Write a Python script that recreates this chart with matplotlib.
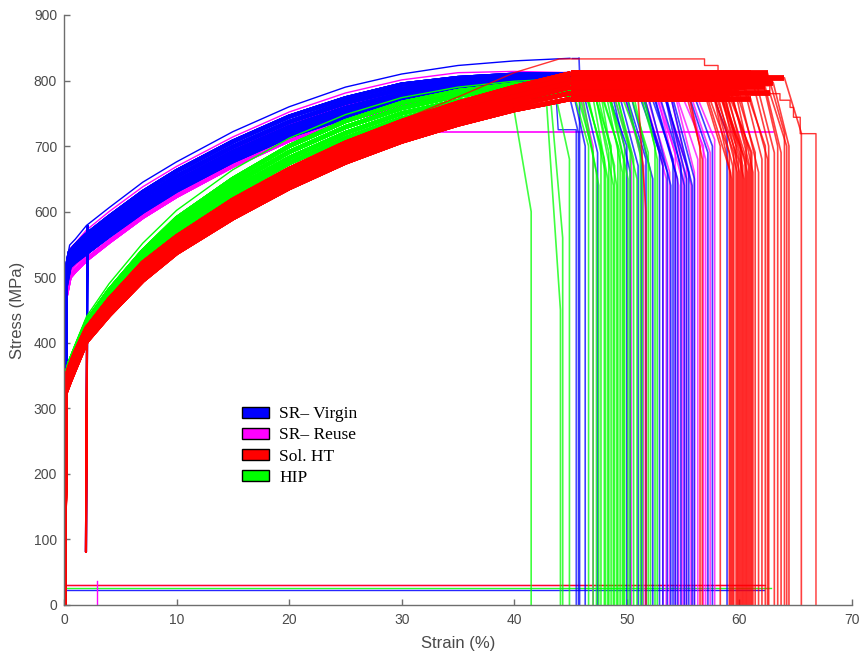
import numpy as np
import matplotlib
matplotlib.use('Agg')
import matplotlib.pyplot as plt
from matplotlib.patches import Patch

strain_grid = [0, 0.15, 0.5, 1, 2, 4, 7, 10, 15, 20, 25, 30, 35, 40, 45]

# SR- Virgin (blue) stress profiles, MPa
virgin_profiles = [
    [0, 515, 549, 558, 579, 606, 645, 676, 722, 760, 790, 810, 823, 830, 834],
    [0, 505, 538, 548, 565, 592, 630, 662, 707, 745, 773, 794, 804, 809, 810],
    [0, 500, 532, 541, 557, 584, 622, 654, 699, 737, 766, 787, 799, 805, 807],
    [0, 495, 526, 535, 550, 577, 614, 646, 691, 729, 758, 780, 794, 801, 804],
    [0, 490, 521, 529, 543, 570, 607, 639, 684, 722, 751, 774, 789, 797, 800],
    [0, 485, 516, 524, 537, 563, 600, 632, 677, 715, 744, 768, 784, 792, 796],
]
virgin_curve = [0, 3, 4, 2, 5, 1, 4, 2, 3, 4, 2, 1, 5, 3, 1, 4, 3, 4, 2, 1, 5, 3, 1, 3, 4, 2]
virgin_neck = [45.75, 44.5, 45.0, 45.8, 48.0, 48.3, 49.0, 49.3, 49.5, 50.0, 50.5, 51.0, 51.0,
               51.5, 51.5, 52.0, 52.0, 52.5, 53.0, 53.0, 53.0, 53.5, 53.5, 55.0, 55.5, 57.0]
virgin_break = [45.8, 45.7, 46.3, 47.4, 50.0, 50.3, 51.0, 51.3, 51.7, 52.3, 52.9, 53.2, 53.6,
                53.9, 54.1, 54.3, 54.5, 54.8, 55.1, 55.3, 55.5, 55.8, 56.0, 57.2, 57.6, 58.9]
virgin_break_stress = [812, 720, 700, 690, 700, 660, 670, 690, 680, 650, 690, 670, 660,
                       640, 680, 660, 650, 670, 640, 650, 660, 640, 650, 690, 700, 720]

# SR- Reuse (magenta)
reuse_profiles = [
    [0, 500, 543, 552, 572, 600, 638, 669, 714, 752, 781, 801, 812, 814, 812],
    [0, 492, 528, 537, 553, 580, 618, 650, 695, 733, 762, 784, 797, 803, 806],
    [0, 482, 512, 521, 537, 564, 602, 634, 679, 718, 748, 771, 786, 794, 798],
    [0, 470, 500, 510, 527, 554, 592, 624, 670, 709, 739, 763, 779, 788, 793],
]
reuse_curve = [1, 2, 3, 1, 2, 3, 1, 3, 2, 1, 3, 1, 2, 2, 3, 1, 0, 1]
reuse_neck = [45.5, 48.5, 49.5, 51.0, 51.2, 51.5, 52.0, 52.5, 52.5, 53.0, 53.0, 53.5,
              54.0, 54.0, 54.5, 55.0, 55.0, 55.5]
reuse_break = [47.0, 50.4, 51.5, 53.2, 53.5, 53.8, 54.3, 54.6, 54.9, 55.1, 55.3, 55.7,
               56.0, 56.3, 56.8, 57.0, 57.4, 57.8]
reuse_break_stress = [700, 690, 670, 680, 650, 660, 690, 640, 650, 660, 670, 640,
                      660, 680, 700, 680, 690, 710]

# HIP (green)
hip_profiles = [
    [0, 352, 376, 398, 440, 490, 552, 602, 664, 712, 748, 774, 790, 799, 803],
    [0, 348, 370, 391, 432, 480, 540, 590, 650, 700, 738, 766, 784, 794, 798],
    [0, 344, 365, 386, 427, 474, 533, 582, 642, 691, 729, 758, 777, 788, 792],
    [0, 340, 360, 381, 423, 468, 526, 574, 634, 682, 720, 750, 769, 781, 785],
    [0, 336, 355, 376, 419, 462, 520, 566, 626, 674, 712, 742, 762, 774, 779],
]
hip_curve = [4, 3, 4, 2, 1, 3, 4, 2, 1, 3, 4, 2, 1, 3, 4, 2, 1, 3, 4, 2, 1, 3,
             4, 2, 1, 3, 4, 2, 1, 3, 2, 0]
hip_neck = [39.8, 42.8, 43.2, 43.5, 45.0, 45.5, 45.8, 45.9, 46.0, 46.3, 46.5, 46.8, 46.9,
            47.0, 47.2, 47.2, 47.5, 47.6, 47.8, 48.0, 48.1, 48.2, 48.5, 48.6, 48.8, 49.0,
            49.5, 49.8, 50.0, 50.5, 51.0, 51.2]
hip_break = [41.5, 44.1, 44.3, 44.9, 46.6, 47.0, 47.3, 47.5, 47.7, 48.0, 48.1, 48.3, 48.4,
             48.6, 48.8, 48.9, 49.1, 49.2, 49.4, 49.6, 49.7, 49.8, 50.1, 50.3, 50.6, 50.9,
             51.2, 51.4, 51.9, 52.1, 52.5, 52.7]
hip_break_stress = [600, 450, 560, 680, 700, 690, 660, 640, 700, 680, 660, 650, 690,
                    700, 640, 670, 640, 700, 690, 660, 680, 700, 650, 690, 680, 650,
                    700, 670, 690, 660, 700, 680]

# Sol. HT (red)
solht_profiles = [
    [0, 345, 364, 385, 422, 466, 522, 562, 618, 665, 705, 738, 766, 790, 811],
    [0, 340, 359, 380, 418, 461, 516, 557, 612, 659, 699, 732, 760, 783, 804],
    [0, 336, 354, 375, 414, 456, 510, 552, 606, 653, 692, 725, 753, 776, 797],
    [0, 332, 349, 370, 410, 451, 505, 547, 600, 647, 686, 719, 746, 769, 790],
    [0, 328, 345, 366, 406, 446, 500, 542, 595, 641, 680, 713, 739, 762, 781],
    [0, 324, 340, 361, 402, 442, 495, 537, 590, 636, 675, 707, 733, 755, 772],
]
solht_curve = [5, 2, 4, 1, 3, 5, 0, 2, 4, 1, 3, 5, 0, 2, 4, 1, 3, 5, 0, 2, 4, 1, 3, 5, 0,
               2, 4, 1, 3, 5, 0, 2, 1, 3, 0, 4, 2, 1]
solht_neck = [51.0, 55.0, 55.5, 56.5, 57.0, 57.2, 57.3, 57.5, 57.6, 57.8, 57.9, 58.0, 58.0,
              58.1, 58.2, 58.3, 58.5, 58.5, 58.7, 58.7, 58.8, 59.0, 59.0, 59.2, 59.3, 59.5,
              60.0, 60.2, 60.5, 61.0, 61.0, 61.5, 62.0, 62.3, 62.5, 62.7, 63.0, 64.0]
solht_break = [51.7, 56.5, 56.7, 58.3, 59.1, 59.2, 59.3, 59.4, 59.5, 59.7, 59.8, 59.9, 60.0,
               60.1, 60.2, 60.3, 60.4, 60.5, 60.6, 60.7, 60.8, 60.9, 61.0, 61.1, 61.2, 61.4,
               61.7, 62.0, 62.3, 62.5, 62.6, 63.1, 63.4, 63.7, 64.0, 64.2, 64.4, 65.5]
solht_break_stress = [600, 700, 680, 700, 690, 660, 650, 670, 690, 700, 660, 680, 660,
                      700, 690, 670, 650, 680, 700, 660, 670, 670, 690, 690, 660, 690,
                      660, 680, 700, 680, 700, 690, 700, 690, 720, 700, 700, 720]

# odd single curves
solht_stair_strain = [0, 0.15, 0.5, 1, 2, 4, 7, 10, 15, 20, 25, 30, 35, 40, 44, 56.9, 56.9,
                      58.1, 58.1, 59.1, 59.1, 60.0, 60.0, 62.7, 62.7, 63.6, 63.6, 64.5, 64.5,
                      64.8, 64.8, 65.4, 65.4, 66.8, 66.8]
solht_stair_stress = [0, 345, 364, 385, 422, 466, 522, 562, 618, 665, 706, 740, 775, 812, 833,
                      833, 823, 823, 813, 813, 803, 803, 792, 792, 780, 780, 770, 770, 759,
                      759, 744, 744, 719, 719, 0]
virgin_box_strain = [43.6, 43.9, 45.5, 45.5]
virgin_box_stress = [806, 725, 725, 0]
reuse_flat_strain = [31.6, 63.0]
reuse_flat_stress = [722, 722]
virgin_unload_strain = [2.1, 1.95, 2.1]
virgin_unload_stress = [578, 81, 578]
solht_unload_strain = [2.05, 1.95, 2.05]
solht_unload_stress = [425, 81, 425]
reuse_tick_strain = [2.9, 2.9]
reuse_tick_stress = [0, 37]

# post-fracture readings near zero
bottom_stress = [31, 30, 26, 23]
bottom_end = [62.1, 62.3, 62.8, 62.2]

labels = ['SR\u2013 Virgin', 'SR\u2013 Reuse', 'Sol. HT', 'HIP']
c_virgin, c_reuse, c_solht, c_hip = '#0000ff', '#ff00ff', '#ff0000', '#00ff00'

fig = plt.figure(figsize=(8.61, 6.53), dpi=100)
ax = fig.add_axes([64 / 861, 48 / 653, 788 / 861, 590 / 653])


def draw_group(profiles, curve_idx, necks, breaks, break_stress, color, thin_rows,
               body_lw, plateau_lw):
    for k, n, b, bs in zip(curve_idx, necks, breaks, break_stress):
        prof = profiles[k]
        end = min(n, strain_grid[-1])
        xs = [g for g in strain_grid if g < end]
        ys = [s for g, s in zip(strain_grid, prof) if g < end]
        s_end = float(np.interp(end, strain_grid, prof))
        xs.append(end)
        ys.append(s_end)
        thin = k in thin_rows
        ax.plot(xs, ys, color=color, lw=1.0 if thin else body_lw,
                solid_joinstyle='round', solid_capstyle='butt', zorder=2)
        if n > end:
            ax.plot([end, n], [s_end, s_end], color=color,
                    lw=1.0 if thin else plateau_lw, solid_capstyle='butt', zorder=2)
        ax.plot([n, b, b], [s_end, bs, 0], color=color, lw=1.2, alpha=0.75, zorder=2)


for s, c, e in zip(bottom_stress, [c_reuse, c_solht, c_hip, c_virgin], bottom_end):
    ax.plot([0, e], [s, s], color=c, lw=1.0, alpha=0.85)
ax.plot(reuse_tick_strain, reuse_tick_stress, color=c_reuse, lw=1.0)

draw_group(reuse_profiles, reuse_curve, reuse_neck, reuse_break, reuse_break_stress,
           c_reuse, [0], 3.0, 1.0)
ax.plot(reuse_flat_strain, reuse_flat_stress, color=c_reuse, lw=1.2)
draw_group(virgin_profiles, virgin_curve, virgin_neck, virgin_break, virgin_break_stress,
           c_virgin, [0], 3.0, 1.0)
ax.plot(virgin_box_strain, virgin_box_stress, color=c_virgin, lw=1.0, alpha=0.8)
ax.plot(virgin_unload_strain, virgin_unload_stress, color=c_virgin, lw=1.6)
draw_group(hip_profiles, hip_curve, hip_neck, hip_break, hip_break_stress, c_hip, [0],
           3.0, 1.0)
draw_group(solht_profiles, solht_curve, solht_neck, solht_break, solht_break_stress,
           c_solht, [], 3.2, 4.2)
ax.plot(solht_stair_strain, solht_stair_stress, color=c_solht, lw=1.0, alpha=0.8)
ax.plot(solht_unload_strain, solht_unload_stress, color=c_solht, lw=1.6)

ax.set_xlim(0, 70)
ax.set_ylim(0, 900)
ax.set_xticks(range(0, 71, 10))
ax.set_yticks(range(0, 901, 100))
for side in ['top', 'right']:
    ax.spines[side].set_visible(False)
for side in ['left', 'bottom']:
    ax.spines[side].set_color('#6e6e6e')
    ax.spines[side].set_linewidth(1.0)
ax.tick_params(direction='in', length=4, width=1.0, color='#6e6e6e',
               labelcolor='#4a4a4a', labelsize=10)
ax.tick_params(axis='x', pad=6)
ax.tick_params(axis='y', pad=5)
for lab in ax.get_xticklabels() + ax.get_yticklabels():
    lab.set_family('Liberation Sans')
ax.set_xlabel('Strain (%)', fontsize=12, color='#4a4a4a', family='Liberation Sans', labelpad=6)
ax.set_ylabel('Stress (MPa)', fontsize=12, color='#4a4a4a', family='Liberation Sans', labelpad=6)

handles = [Patch(facecolor=c, edgecolor='black', lw=1.0, label=l)
           for c, l in zip([c_virgin, c_reuse, c_solht, c_hip], labels)]
ax.legend(handles=handles, loc='upper left', bbox_to_anchor=(0.226, 0.337),
          frameon=False, borderpad=0, borderaxespad=0, handlelength=1.55,
          handleheight=0.6, handletextpad=0.6, labelspacing=0.3,
          prop={'family': 'Liberation Serif', 'size': 12.5})

fig.savefig('out.png', dpi=100)
